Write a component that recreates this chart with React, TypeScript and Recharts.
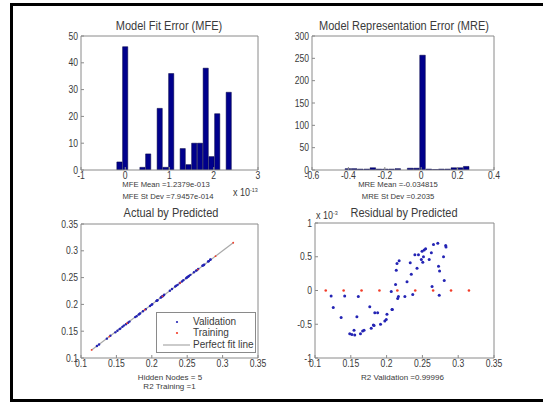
import React from 'react';
import { ComposedChart, ScatterChart, Bar, Scatter, XAxis, YAxis } from 'recharts';

const FONT = '"Liberation Sans", Arial, Helvetica, sans-serif';
const BOX = '#8a8a8a';
const TXT = '#3a3a3a';
const NAVY = '#00008c';
const BLUE = '#2424b4';
const RED = '#f23c28';
const GRAY = '#a8a8a8';

// Model Fit Error histogram (x in units of 1e-13)
const mfeBins = [-0.125, 0.005, 0.135, 0.265, 0.395, 0.525, 0.655, 0.785, 0.915, 1.045, 1.175, 1.305, 1.435, 1.565, 1.695, 1.825, 1.955, 2.085, 2.215, 2.345];
const mfeCounts = [3, 46, 0, 0, 1, 6, 0, 23, 1, 36, 0, 8, 2, 10, 10, 38, 5, 21, 0, 29];
const mfeBinWidth = 0.13;
const mfeXTicks = [-1, 0, 1, 2, 3];
const mfeYTicks = [0, 10, 20, 30, 40, 50];

// Model Representation Error histogram
const mreBins = [-0.401, -0.367, -0.333, -0.298, -0.264, -0.23, -0.196, -0.162, -0.127, -0.093, -0.059, -0.025, 0.009, 0.044, 0.078, 0.112, 0.146, 0.181, 0.215, 0.249];
const mreCounts = [3, 3, 2, 2, 5, 2, 2, 2, 3, 0, 4, 4, 257, 2, 1, 2, 2, 5, 5, 8];
const mreBinWidth = 0.0342;
const mreXTicks = [-0.6, -0.4, -0.2, 0, 0.2, 0.4];
const mreYTicks = [0, 50, 100, 150, 200, 250, 300];

// validation set: predicted value and residual (x 1e-3)
const validPred = [0.1225, 0.1255, 0.1365, 0.1415, 0.1485, 0.1515, 0.1545, 0.1555, 0.1585, 0.1605, 0.1635, 0.1665, 0.1685, 0.1765, 0.1785, 0.1815, 0.1825, 0.1835, 0.1875, 0.1915, 0.1975, 0.1995, 0.2005, 0.2065, 0.2075, 0.208, 0.2125, 0.2135, 0.2145, 0.2155, 0.2165, 0.2175, 0.2255, 0.2285, 0.233, 0.2345, 0.2365, 0.2395, 0.2425, 0.2445, 0.2485, 0.2495, 0.2505, 0.2515, 0.2525, 0.2545, 0.2595, 0.2625, 0.2635, 0.2655, 0.2715, 0.2725, 0.274, 0.2735, 0.2795, 0.2805, 0.2825, 0.283];
const validResid = [-0.08, -0.25, -0.4, -0.08, -0.64, -0.65, -0.59, -0.66, -0.39, -0.09, -0.64, -0.6, -0.59, -0.24, -0.56, -0.51, -0.52, -0.33, -0.33, -0.5, -0.45, -0.43, -0.35, -0.015, -0.28, -0.28, 0.09, 0.3, 0.4, -0.12, -0.09, 0.44, -0.09, 0.13, 0.41, 0.24, -0.06, 0.53, 0.33, 0.53, 0.46, 0.58, 0.42, 0.5, 0.6, 0.62, 0.46, 0.56, 0.06, 0.68, 0.7, 0.36, 0.29, -0.07, 0.5, 0.15, 0.665, 0.645];

// training set
const trainPred = [0.115, 0.14, 0.165, 0.19, 0.215, 0.24, 0.265, 0.29, 0.315];
const trainResid = [0, 0, 0, 0, 0, 0, 0, 0, 0];

const predTicks = [0.1, 0.15, 0.2, 0.25, 0.3, 0.35];
const residTicks = [-1, -0.5, 0, 0.5, 1];

const mfeData = mfeBins.map((x, i) => ({ x, n: mfeCounts[i] }));
const mreData = mreBins.map((x, i) => ({ x, n: mreCounts[i] }));
const residValid = validPred.map((x, i) => ({ x, y: validResid[i] }));
const residTrain = trainPred.map((x, i) => ({ x, y: trainResid[i] }));
// actual = predicted + residual
const actValid = validPred.map((x, i) => ({ x, y: x + validResid[i] / 1000 }));
const actTrain = trainPred.map((x, i) => ({ x, y: x + trainResid[i] / 1000 }));
const fitLo = Math.min(...trainPred);
const fitHi = Math.max(...trainPred);
const fitLine = [{ x: fitLo, y: fitLo }, { x: fitHi, y: fitHi }];

const YW = 34;
const XH = 16;
const MT = 8;
const MR = 14;
const PT = MT + 1;

const hScale = (x: number) => `translate(${x},0) scale(0.86,1) translate(${-x},0)`;

function BottomTick(p: any) {
  return (
    <text x={p.x} y={p.y} dy="0.7em" textAnchor="middle" fontSize={10} fontFamily={FONT} fill={TXT} transform={hScale(p.x)}>
      {String(p.payload.value)}
    </text>
  );
}

function LeftTick(p: any) {
  return (
    <text x={p.x} y={p.y} dy="0.36em" textAnchor="end" fontSize={10} fontFamily={FONT} fill={TXT} transform={hScale(p.x)}>
      {String(p.payload.value)}
    </text>
  );
}

const axes = (xd: number[], xt: number[], yd: number[], yt: number[]) => [
  <XAxis key="xb" xAxisId="b" type="number" dataKey="x" domain={xd} ticks={xt} orientation="bottom" height={XH}
    stroke={BOX} tickSize={-3} tickMargin={5} tick={BottomTick} interval={0} allowDataOverflow />,
  <XAxis key="xt" xAxisId="t" type="number" domain={xd} ticks={xt} orientation="top" height={1}
    stroke={BOX} tickSize={-3} tick={false} interval={0} allowDataOverflow />,
  <YAxis key="yl" yAxisId="l" type="number" dataKey="y" domain={yd} ticks={yt} orientation="left" width={YW}
    stroke={BOX} tickSize={-3} tickMargin={6} tick={LeftTick} interval={0} allowDataOverflow />,
  <YAxis key="yr" yAxisId="r" type="number" domain={yd} ticks={yt} orientation="right" width={1}
    stroke={BOX} tickSize={-3} tick={false} interval={0} allowDataOverflow />,
];

const dot = (color: string, r: number) => (p: any) => <circle cx={p.cx} cy={p.cy} r={r} fill={color} />;

function Label({ x, y, size, children, sx = 1, align = 'center' }: any) {
  const tx = align === 'center' ? '-50%' : '0';
  return (
    <div style={{
      position: 'absolute', left: x, top: y, fontSize: size, fontFamily: FONT, color: TXT, lineHeight: 1,
      whiteSpace: 'nowrap', transform: `translate(${tx},-50%) scaleX(${sx})`,
      transformOrigin: align === 'center' ? 'center' : 'left center',
    }}>
      {children}
    </div>
  );
}

function Panel({ left, top, children }: any) {
  return <div style={{ position: 'absolute', left: left - YW, top: top - PT }}>{children}</div>;
}

export default function App() {
  const tl = { left: 81, top: 36, w: 177, h: 134 };
  const tr = { left: 312, top: 36, w: 182, h: 134 };
  const bl = { left: 81, top: 224, w: 177, h: 134 };
  const br = { left: 315, top: 223, w: 179, h: 135 };
  const chartSize = (p: any) => ({ width: YW + p.w + 1 + MR, height: PT + p.h + XH + 4 });
  const margin = { top: MT, right: MR, left: 0, bottom: 4 };

  return (
    <div style={{ position: 'fixed', left: 0, top: 0, width: 543, height: 402, background: '#fff', overflow: 'hidden' }}>
      <div style={{ position: 'absolute', left: 10, top: 3, width: 540, height: 399, border: '3px solid #000', boxSizing: 'border-box' }} />

      <Panel {...tl}>
        <ComposedChart {...chartSize(tl)} data={mfeData} margin={margin}>
          {axes([-1, 3], mfeXTicks, [0, 50], mfeYTicks)}
          <Bar xAxisId="b" yAxisId="l" dataKey="n" fill={NAVY} stroke="#000040" strokeWidth={0.5}
            barSize={(mfeBinWidth * tl.w) / 4} isAnimationActive={false} />
        </ComposedChart>
      </Panel>

      <Panel {...tr}>
        <ComposedChart {...chartSize(tr)} data={mreData} margin={margin}>
          {axes([-0.6, 0.4], mreXTicks, [0, 300], mreYTicks)}
          <Bar xAxisId="b" yAxisId="l" dataKey="n" fill={NAVY} stroke="#000040" strokeWidth={0.5}
            barSize={mreBinWidth * tr.w} isAnimationActive={false} />
        </ComposedChart>
      </Panel>

      <Panel {...bl}>
        <ScatterChart {...chartSize(bl)} margin={margin}>
          {axes([0.1, 0.35], predTicks, [0.1, 0.35], predTicks)}
          <Scatter xAxisId="b" yAxisId="l" data={fitLine} line={{ stroke: GRAY, strokeWidth: 1.2 }} shape={() => <g />} isAnimationActive={false} />
          <Scatter xAxisId="b" yAxisId="l" data={actValid} shape={dot(BLUE, 1.2)} isAnimationActive={false} />
          <Scatter xAxisId="b" yAxisId="l" data={actTrain} shape={dot(RED, 0.9)} isAnimationActive={false} />
        </ScatterChart>
      </Panel>

      <Panel {...br}>
        <ScatterChart {...chartSize(br)} margin={margin}>
          {axes([0.1, 0.35], predTicks, [-1, 1], residTicks)}
          <Scatter xAxisId="b" yAxisId="l" data={residValid} shape={dot(BLUE, 1.5)} isAnimationActive={false} />
          <Scatter xAxisId="b" yAxisId="l" data={residTrain} shape={dot(RED, 1.3)} isAnimationActive={false} />
        </ScatterChart>
      </Panel>

      {/* legend of the actual-by-predicted plot */}
      <div style={{ position: 'absolute', left: 156, top: 312, width: 100, height: 41, border: `1px solid ${BOX}`, background: '#fff', boxSizing: 'border-box' }}>
        <svg width={100} height={41} style={{ position: 'absolute', left: -1, top: -1 }}>
          <circle cx={21} cy={10} r={1.1} fill={BLUE} />
          <circle cx={21} cy={21} r={1.1} fill={RED} />
          <line x1={7} x2={34} y1={33} y2={33} stroke={GRAY} strokeWidth={1.2} />
        </svg>
      </div>
      <Label x={193} y={322} size={10} align="left">Validation</Label>
      <Label x={193} y={333} size={10} align="left">Training</Label>
      <Label x={193} y={345} size={10} align="left">Perfect fit line</Label>

      <Label x={169} y={25.5} size={12.5} sx={0.88}>Model Fit Error (MFE)</Label>
      <Label x={404} y={25.5} size={12.5} sx={0.88}>Model Representation Error (MRE)</Label>
      <Label x={170.5} y={212.5} size={12.5} sx={0.88}>Actual by Predicted</Label>
      <Label x={403.5} y={212.5} size={12.5} sx={0.88}>Residual by Predicted</Label>

      <Label x={166} y={185} size={7.7}>MFE Mean =1.2379e-013</Label>
      <Label x={168} y={196.5} size={7.7}>MFE St Dev =7.9457e-014</Label>
      <Label x={398} y={185} size={7.7}>MRE Mean =-0.034815</Label>
      <Label x={398} y={196.5} size={7.7}>MRE St Dev =0.2035</Label>
      <Label x={170} y={377.5} size={8}>Hidden Nodes = 5</Label>
      <Label x={169.5} y={386.5} size={8}>R2 Training =1</Label>
      <Label x={402.5} y={377.5} size={8}>R2 Validation =0.99996</Label>

      <Label x={233} y={192.5} size={10} align="left" sx={0.9}>
        x 10<span style={{ fontSize: 6, position: 'relative', top: -4 }}>-13</span>
      </Label>
      <Label x={316} y={216} size={10} align="left" sx={0.9}>
        x 10<span style={{ fontSize: 6, position: 'relative', top: -4 }}>-3</span>
      </Label>
    </div>
  );
}
